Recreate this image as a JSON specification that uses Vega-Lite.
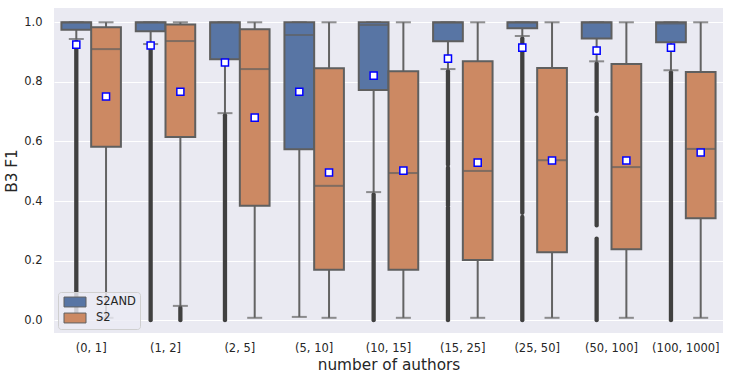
{
  "$schema": "https://vega.github.io/schema/vega-lite/v6.json",
  "autosize": {"type": "none"},
  "width": 669,
  "height": 325,
  "padding": {"left": 54, "top": 8, "right": 6, "bottom": 46},
  "background": "white",
  "config": {
    "font": "DejaVu Sans",
    "view": {"fill": "#eaeaf2", "stroke": null},
    "axis": {"labelColor": "#262626", "titleColor": "#262626", "labelFontSize": 11.5, "titleFontSize": 15.3, "titleFontWeight": "normal", "domain": false, "ticks": false, "tickSize": 0}
  },
  "datasets": {
    "boxes": [
      {"bin": "(0, 1]", "sys": "S2AND", "lo": 0.944, "q1": 0.975, "med": 0.999, "q3": 1.0, "hi": 1.0, "mean": 0.925},
      {"bin": "(0, 1]", "sys": "S2", "lo": 0.008, "q1": 0.582, "med": 0.910, "q3": 0.983, "hi": 1.0, "mean": 0.751},
      {"bin": "(1, 2]", "sys": "S2AND", "lo": 0.927, "q1": 0.970, "med": 0.999, "q3": 1.0, "hi": 1.0, "mean": 0.922},
      {"bin": "(1, 2]", "sys": "S2", "lo": 0.048, "q1": 0.615, "med": 0.937, "q3": 0.993, "hi": 1.0, "mean": 0.767},
      {"bin": "(2, 5]", "sys": "S2AND", "lo": 0.695, "q1": 0.876, "med": 0.999, "q3": 1.0, "hi": 1.0, "mean": 0.865},
      {"bin": "(2, 5]", "sys": "S2", "lo": 0.008, "q1": 0.384, "med": 0.843, "q3": 0.977, "hi": 1.0, "mean": 0.680},
      {"bin": "(5, 10]", "sys": "S2AND", "lo": 0.011, "q1": 0.574, "med": 0.957, "q3": 1.0, "hi": 1.0, "mean": 0.767},
      {"bin": "(5, 10]", "sys": "S2", "lo": 0.008, "q1": 0.169, "med": 0.451, "q3": 0.846, "hi": 1.0, "mean": 0.496},
      {"bin": "(10, 15]", "sys": "S2AND", "lo": 0.430, "q1": 0.773, "med": 0.991, "q3": 1.0, "hi": 1.0, "mean": 0.821},
      {"bin": "(10, 15]", "sys": "S2", "lo": 0.008, "q1": 0.169, "med": 0.494, "q3": 0.836, "hi": 1.0, "mean": 0.502},
      {"bin": "(15, 25]", "sys": "S2AND", "lo": 0.843, "q1": 0.936, "med": 0.999, "q3": 1.0, "hi": 1.0, "mean": 0.878},
      {"bin": "(15, 25]", "sys": "S2", "lo": 0.008, "q1": 0.202, "med": 0.501, "q3": 0.869, "hi": 1.0, "mean": 0.529},
      {"bin": "(25, 50]", "sys": "S2AND", "lo": 0.954, "q1": 0.980, "med": 0.999, "q3": 1.0, "hi": 1.0, "mean": 0.915},
      {"bin": "(25, 50]", "sys": "S2", "lo": 0.008, "q1": 0.228, "med": 0.537, "q3": 0.847, "hi": 1.0, "mean": 0.536},
      {"bin": "(50, 100]", "sys": "S2AND", "lo": 0.869, "q1": 0.946, "med": 0.999, "q3": 1.0, "hi": 1.0, "mean": 0.905},
      {"bin": "(50, 100]", "sys": "S2", "lo": 0.008, "q1": 0.238, "med": 0.514, "q3": 0.860, "hi": 1.0, "mean": 0.536},
      {"bin": "(100, 1000]", "sys": "S2AND", "lo": 0.839, "q1": 0.933, "med": 0.996, "q3": 1.0, "hi": 1.0, "mean": 0.915},
      {"bin": "(100, 1000]", "sys": "S2", "lo": 0.008, "q1": 0.342, "med": 0.575, "q3": 0.833, "hi": 1.0, "mean": 0.563}
    ],
    "outliers": [
      {"bin": "(0, 1]", "sys": "S2AND", "lo": 0.0, "hi": 0.935},
      {"bin": "(1, 2]", "sys": "S2AND", "lo": 0.0, "hi": 0.918},
      {"bin": "(1, 2]", "sys": "S2", "lo": 0.0, "hi": 0.042},
      {"bin": "(2, 5]", "sys": "S2AND", "lo": 0.0, "hi": 0.688},
      {"bin": "(10, 15]", "sys": "S2AND", "lo": 0.0, "hi": 0.422},
      {"bin": "(15, 25]", "sys": "S2AND", "lo": 0.0, "hi": 0.378},
      {"bin": "(15, 25]", "sys": "S2AND", "lo": 0.386, "hi": 0.512},
      {"bin": "(15, 25]", "sys": "S2AND", "lo": 0.522, "hi": 0.836},
      {"bin": "(25, 50]", "sys": "S2AND", "lo": 0.0, "hi": 0.347},
      {"bin": "(25, 50]", "sys": "S2AND", "lo": 0.360, "hi": 0.946},
      {"bin": "(50, 100]", "sys": "S2AND", "lo": 0.0, "hi": 0.274},
      {"bin": "(50, 100]", "sys": "S2AND", "lo": 0.318, "hi": 0.680},
      {"bin": "(50, 100]", "sys": "S2AND", "lo": 0.702, "hi": 0.862},
      {"bin": "(100, 1000]", "sys": "S2AND", "lo": 0.0, "hi": 0.832}
    ]
  },
  "encoding": {
    "x": {"field": "bin", "type": "nominal", "sort": ["(0, 1]", "(1, 2]", "(2, 5]", "(5, 10]", "(10, 15]", "(15, 25]", "(25, 50]", "(50, 100]", "(100, 1000]"],
      "scale": {"paddingInner": 0.2, "paddingOuter": 0.1},
      "axis": {"labelAngle": 0, "grid": false, "labelPadding": 9, "titlePadding": 4, "title": "number of authors"}},
    "xOffset": {"field": "sys", "type": "nominal", "sort": ["S2AND", "S2"], "scale": {"paddingInner": 0, "paddingOuter": 0}}
  },
  "layer": [
    {
      "data": {"name": "boxes"},
      "mark": {"type": "rule", "color": "#636363", "strokeWidth": 2},
      "encoding": {"y": {"field": "lo", "type": "quantitative"}, "y2": {"field": "q1"}}
    },
    {
      "data": {"name": "boxes"},
      "mark": {"type": "rule", "color": "#636363", "strokeWidth": 2},
      "encoding": {"y": {"field": "q3", "type": "quantitative"}, "y2": {"field": "hi"}}
    },
    {
      "data": {"name": "outliers"},
      "mark": {"type": "rule", "color": "#404040", "strokeWidth": 4.3, "strokeCap": "round"},
      "encoding": {"y": {"field": "lo", "type": "quantitative"}, "y2": {"field": "hi"}}
    },
    {
      "data": {"name": "boxes"},
      "mark": {"type": "tick", "color": "#636363", "thickness": 2, "size": 15},
      "encoding": {"y": {"field": "lo", "type": "quantitative"}}
    },
    {
      "data": {"name": "boxes"},
      "mark": {"type": "tick", "color": "#636363", "thickness": 2, "size": 15},
      "encoding": {"y": {"field": "hi", "type": "quantitative"}}
    },
    {
      "data": {"name": "boxes"},
      "mark": {"type": "bar", "stroke": "#5f5f5f", "strokeWidth": 2},
      "encoding": {
        "y": {"field": "q1", "type": "quantitative", "scale": {"domain": [-0.043, 1.048], "nice": false, "zero": false},
          "axis": {"title": "B3 F1", "values": [0, 0.2, 0.4, 0.6, 0.8, 1.0], "format": ".1f", "grid": true, "gridColor": "white", "gridWidth": 1, "labelPadding": 12, "titlePadding": 4}},
        "y2": {"field": "q3"},
        "color": {"field": "sys", "type": "nominal", "sort": ["S2AND", "S2"],
          "scale": {"domain": ["S2AND", "S2"], "range": ["#5875a4", "#cc8963"]},
          "legend": {"title": null, "orient": "bottom-left", "offset": 4, "fillColor": "rgba(236,236,244,0.82)", "strokeColor": "#cfcfcf", "padding": 4, "cornerRadius": 3,
            "symbolType": "M-2,-0.9H2V0.9H-2Z", "symbolSize": 121, "symbolOffset": 7, "symbolStrokeColor": "#5f5f5f", "symbolStrokeWidth": 1, "symbolOpacity": 1,
            "labelFontSize": 11.5, "labelColor": "#262626", "rowPadding": 2, "labelOffset": 15}}
      }
    },
    {
      "data": {"name": "boxes"},
      "mark": {"type": "tick", "color": "#5f5f5f", "thickness": 2, "size": 29},
      "encoding": {"y": {"field": "med", "type": "quantitative"}}
    },
    {
      "data": {"name": "boxes"},
      "mark": {"type": "point", "shape": "square", "filled": true, "fill": "white", "stroke": "blue", "strokeWidth": 1.5, "size": 50, "opacity": 1},
      "encoding": {"y": {"field": "mean", "type": "quantitative"}}
    }
  ]
}
